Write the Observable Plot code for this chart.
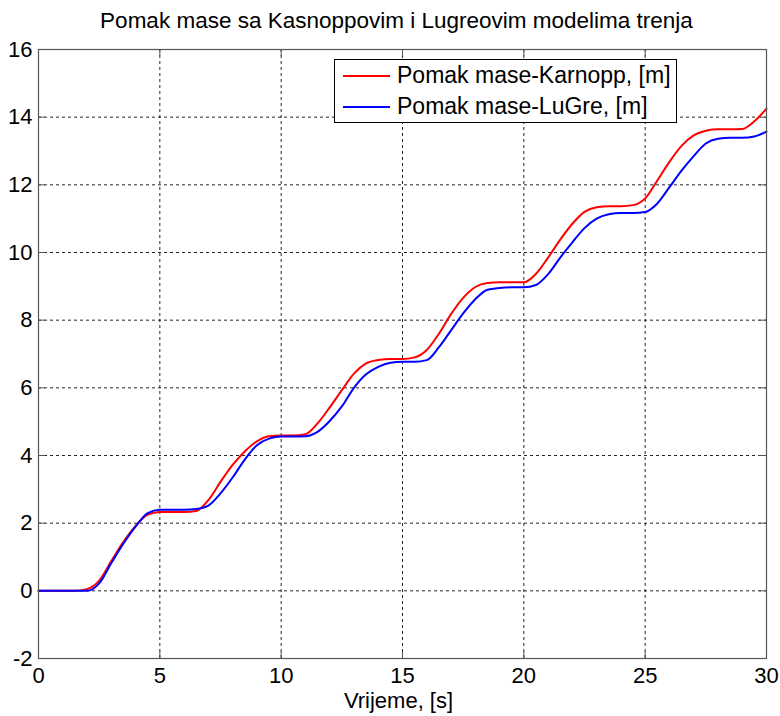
<!DOCTYPE html>
<html>
<head>
<meta charset="utf-8">
<script src="https://cdn.jsdelivr.net/npm/d3@7"></script>
<script src="https://cdn.jsdelivr.net/npm/@observablehq/plot@0.6"></script>
<style>
  body { margin: 0; background: #fff; }
  #wrap { position: relative; width: 780px; height: 716px; font-family: "Liberation Sans", Arial, sans-serif; }
  #legend { position: absolute; left: 334px; top: 59px; width: 341px; height: 62px; border: 1px solid #000; background: #fff; box-sizing: content-box; }
  .row { display: flex; align-items: center; height: 31px; font-size: 23px; color: #000; }
  .row svg { margin-left: 8px; margin-right: 7px; }
</style>
</head>
<body>
<div id="wrap"></div>
<script>
const title = "Pomak mase sa Kasnoppovim i Lugreovim modelima trenja";
const xLabel = "Vrijeme, [s]";
const seriesNames = ["Pomak mase-Karnopp, [m]", "Pomak mase-LuGre, [m]"];
const seriesColors = ["#ff0000", "#0000ff"];
const xTicks = [0, 5, 10, 15, 20, 25, 30];
const yTicks = [-2, 0, 2, 4, 6, 8, 10, 12, 14, 16];

const time = [0, 0.5, 1, 1.5, 2, 2.5, 3, 3.5, 4, 4.5, 5, 5.5, 6, 6.5, 7, 7.5, 8, 8.5, 9, 9.5,
  10, 10.5, 11, 11.5, 12, 12.5, 13, 13.5, 14, 14.5, 15, 15.5, 16, 16.5, 17, 17.5, 18, 18.5, 19, 19.5,
  20, 20.5, 21, 21.5, 22, 22.5, 23, 23.5, 24, 24.5, 25, 25.5, 26, 26.5, 27, 27.5, 28, 28.5, 29, 29.5, 30];

const karnopp = [0, 0, 0, 0, 0.05, 0.3, 0.88, 1.45, 1.92, 2.25, 2.33, 2.33, 2.33, 2.36, 2.68, 3.22, 3.72, 4.12, 4.42, 4.57,
  4.59, 4.59, 4.63, 4.95, 5.42, 5.93, 6.42, 6.72, 6.82, 6.85, 6.85, 6.9, 7.12, 7.6, 8.18, 8.66, 8.98, 9.1, 9.12, 9.12,
  9.12, 9.37, 9.85, 10.38, 10.85, 11.2, 11.34, 11.37, 11.37, 11.4, 11.6, 12.13, 12.68, 13.15, 13.46, 13.6, 13.64, 13.64, 13.65, 13.88, 14.25];

const lugre = [0, 0, 0, 0, 0, 0.22, 0.82, 1.4, 1.9, 2.3, 2.4, 2.4, 2.4, 2.42, 2.52, 2.88, 3.35, 3.88, 4.3, 4.5,
  4.56, 4.56, 4.57, 4.7, 5.02, 5.45, 6.0, 6.4, 6.62, 6.74, 6.77, 6.77, 6.82, 7.2, 7.7, 8.2, 8.62, 8.9, 8.95, 8.97,
  8.97, 9.04, 9.36, 9.85, 10.3, 10.72, 11.0, 11.13, 11.17, 11.17, 11.2, 11.45, 11.93, 12.42, 12.85, 13.22, 13.36, 13.39, 13.39, 13.43, 13.57];

const data = [];
time.forEach((t, i) => {
  data.push({t, v: karnopp[i], s: seriesNames[0]});
  data.push({t, v: lugre[i], s: seriesNames[1]});
});

const W = 780, H = 716, mt = 49, mb = 58, ml = 38, mr = 14;
const fw = W - ml - mr, fh = H - mt - mb;
const tickLen = 7;

const chart = Plot.plot({
  width: W, height: H,
  marginTop: mt, marginBottom: mb, marginLeft: ml, marginRight: mr,
  style: {fontFamily: '"Liberation Sans", Arial, sans-serif', background: "#fff", color: "#000"},
  x: {domain: [0, 30], ticks: xTicks, label: null},
  y: {domain: [-2, 16], ticks: yTicks, label: null},
  color: {domain: seriesNames, range: seriesColors},
  marks: [
    Plot.gridX(xTicks, {stroke: "#000", strokeOpacity: 0.85, strokeDasharray: "3,3"}),
    Plot.gridY(yTicks, {stroke: "#000", strokeOpacity: 0.85, strokeDasharray: "3,3"}),
    Plot.axisX(xTicks, {tickSize: 0, tickPadding: 9, fontSize: 22, tickFormat: d => `${d}`, label: null}),
    Plot.axisY(yTicks, {tickSize: 0, tickPadding: 6, fontSize: 22, tickFormat: d => `${d}`, label: null}),
    Plot.tickX(xTicks, {x: d => d, stroke: "#555", insetTop: fh - tickLen}),
    Plot.tickX(xTicks, {x: d => d, stroke: "#555", insetBottom: fh - tickLen}),
    Plot.tickY(yTicks, {y: d => d, stroke: "#555", insetRight: fw - tickLen}),
    Plot.tickY(yTicks, {y: d => d, stroke: "#555", insetLeft: fw - tickLen}),
    Plot.line(data, {x: "t", y: "v", z: "s", stroke: "s", strokeWidth: 2, curve: "monotone-x"}),
    Plot.frame({stroke: "#555", strokeWidth: 1.2}),
    Plot.text([title], {frameAnchor: "top", dy: -29, dx: -6, fontSize: 22.5, lineAnchor: "middle", fill: "#000"}),
    Plot.text([xLabel], {frameAnchor: "bottom", dy: 42, dx: -4, fontSize: 22, lineAnchor: "middle", fill: "#000"})
  ]
});

const wrap = document.getElementById("wrap");
wrap.appendChild(chart);

const legend = document.createElement("div");
legend.id = "legend";
seriesNames.forEach((name, i) => {
  const row = document.createElement("div");
  row.className = "row";
  row.innerHTML = `<svg width="47" height="4"><line x1="0" y1="2" x2="47" y2="2" stroke="${seriesColors[i]}" stroke-width="2"/></svg><span>${name}</span>`;
  legend.appendChild(row);
});
wrap.appendChild(legend);
</script>
</body>
</html>
